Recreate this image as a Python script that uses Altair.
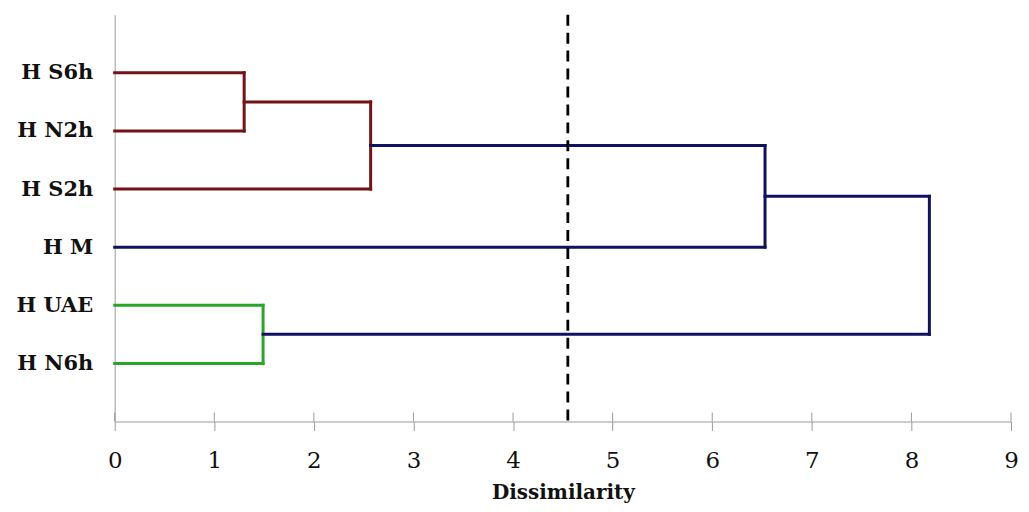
import altair as alt
import pandas as pd

# Leaves (top to bottom)
leaves = ["H S6h", "H N2h", "H S2h", "H M", "H UAE", "H N6h"]

# Merges: (left child, right child, dissimilarity, colour group)
merge_names = ["m1", "m2", "m3", "m4", "m5"]
merge_left = ["H S6h", "m1", "m2", "H UAE", "m3"]
merge_right = ["H N2h", "H S2h", "H M", "H N6h", "m4"]
merge_height = [1.30, 2.57, 6.53, 1.49, 8.18]
merge_group = ["red", "red", "blue", "green", "blue"]

cutoff = 4.55
x_ticks = [0, 1, 2, 3, 4, 5, 6, 7, 8, 9]

colors = {"red": "#741214", "blue": "#111163", "green": "#2AA62A"}

# node positions
pos = {}
for i, name in enumerate(leaves):
    pos[name] = (0.0, float(i + 1))

rows = []
for name, l, r, h, g in zip(merge_names, merge_left, merge_right, merge_height, merge_group):
    lx, ly = pos[l]
    rx, ry = pos[r]
    rows.append(dict(x=lx, x2=h, y=ly, y2=ly, g=g))
    rows.append(dict(x=rx, x2=h, y=ry, y2=ry, g=g))
    rows.append(dict(x=h, x2=h, y=ly, y2=ry, g=g))
    pos[name] = (h, (ly + ry) / 2)

seg = pd.DataFrame(rows)

label_expr = "[''," + ",".join("'%s'" % s for s in leaves) + ",''][datum.value]"

xscale = alt.Scale(domain=[0, 9], nice=False, zero=False)
yscale = alt.Scale(domain=[0, 7], reverse=True, nice=False, zero=False)

FONT = "DejaVu Serif"

lines = alt.Chart(seg).mark_rule(strokeWidth=3, strokeCap="square").encode(
    x=alt.X("x:Q", scale=xscale,
            axis=alt.Axis(values=x_ticks, format="d", title="Dissimilarity", grid=False,
                          domainColor="#9a9a9a", tickColor="#9a9a9a", tickSize=9,
                          labelFont=FONT, labelFontSize=23, labelColor="#111",
                          labelBaseline="alphabetic", labelPadding=37,
                          labelFlush=False, labelBound=False, labelOverlap=False,
                          titleFont=FONT, titleFontSize=20, titleFontWeight="bold",
                          titleColor="#111", titleBaseline="alphabetic", titleY=77)),
    x2="x2:Q",
    y=alt.Y("y:Q", scale=yscale,
            axis=alt.Axis(values=[1, 2, 3, 4, 5, 6], labelExpr=label_expr, title=None,
                          grid=False, ticks=False, domainColor="#9a9a9a",
                          labelFont=FONT, labelFontSize=21, labelFontWeight="bold",
                          labelColor="#111", labelPadding=22)),
    y2="y2:Q",
    color=alt.Color("g:N", scale=alt.Scale(domain=list(colors.keys()),
                                           range=list(colors.values())), legend=None),
)

tick_df = pd.DataFrame({"t": x_ticks})
upticks = alt.Chart(tick_df).mark_rule(color="#9a9a9a", strokeWidth=1).encode(
    x=alt.X("t:Q", scale=xscale),
    y=alt.value(399),
    y2=alt.value(408),
)

cut_df = pd.DataFrame({"c": [cutoff]})
cut = alt.Chart(cut_df).mark_rule(color="#000", strokeWidth=2.8, strokeDash=[11, 7]).encode(
    x=alt.X("c:Q", scale=xscale),
    y=alt.value(0),
    y2=alt.value(408),
)

chart = alt.layer(upticks, lines, cut).properties(
    width=899, height=408,
    autosize=alt.AutoSizeParams(type="none"),
    padding={"left": 107, "top": 6, "right": 10, "bottom": 82},
).configure_view(stroke=None)

chart.save("out.html", embed_options={"renderer": "svg", "actions": False})
